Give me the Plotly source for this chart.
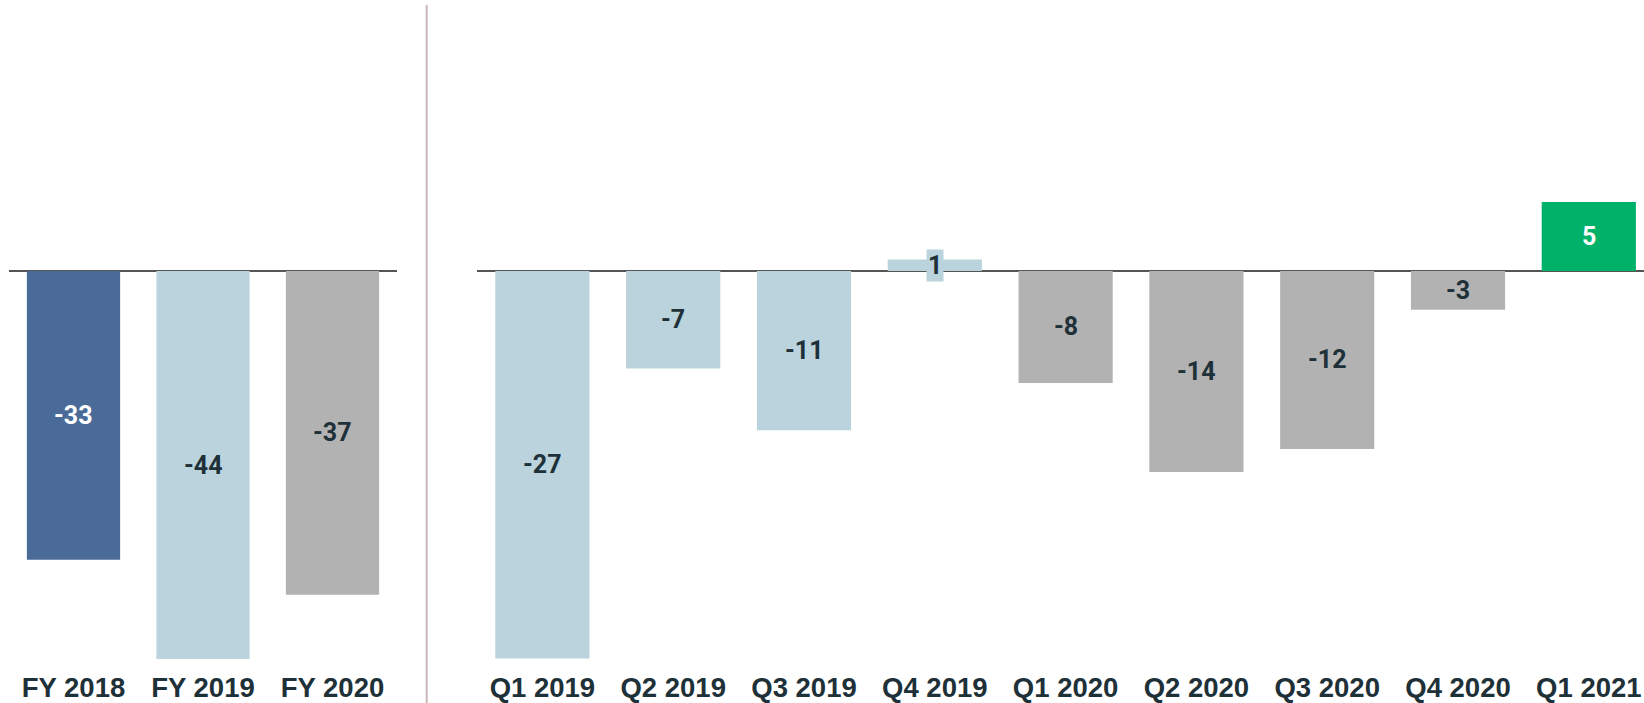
import plotly.graph_objects as go

# ---- data ----
fy_categories = ["FY 2018", "FY 2019", "FY 2020"]
fy_values = [-32.8, -44.1, -36.8]
fy_colors = ["#4a6a98", "#bad3dc", "#b2b2b2"]
fy_label_colors = ["#ffffff", "#1e3038", "#1e3038"]

q_categories = ["Q1 2019", "Q2 2019", "Q3 2019", "Q4 2019", "Q1 2020",
                "Q2 2020", "Q3 2020", "Q4 2020", "Q1 2021"]
q_values = [-27.0, -6.8, -11.1, 0.8, -7.8, -14.0, -12.4, -2.7, 4.8]
q_colors = ["#bad3dc"] * 4 + ["#b2b2b2"] * 4 + ["#00b16a"]
q_label_colors = ["#1e3038"] * 8 + ["#ffffff"]

fy_labels = [f"{round(v):d}" for v in fy_values]
q_labels = [f"{round(v):d}" for v in q_values]

# ---- layout geometry ----
W, H = 1644, 703
MB = 44
PH = H - MB            # plot-area height
ZERO_PX = 271          # zero line position from top
fy_ppu = 8.8
q_ppu = 14.35

fig = go.Figure()
fig.add_trace(go.Bar(x=fy_categories, y=fy_values, marker_color=fy_colors,
                     marker_line_width=0, xaxis="x", yaxis="y",
                     hoverinfo="x+y"))
fig.add_trace(go.Bar(x=q_categories, y=q_values, marker_color=q_colors,
                     marker_line_width=0, xaxis="x2", yaxis="y2",
                     hoverinfo="x+y"))

label_font = "Roboto"
annotations = []
for cat, v, lab, c, bg in zip(fy_categories, fy_values, fy_labels, fy_label_colors, fy_colors):
    annotations.append(dict(x=cat, y=v / 2, xref="x", yref="y", text=f"<b>{lab}</b>",
                            showarrow=False, bgcolor=bg, borderpad=1,
                            font=dict(family=label_font, size=25, color=c)))
for cat, v, lab, c, bg in zip(q_categories, q_values, q_labels, q_label_colors, q_colors):
    annotations.append(dict(x=cat, y=v / 2, xref="x2", yref="y2", text=f"<b>{lab}</b>",
                            showarrow=False, bgcolor=bg, borderpad=1,
                            font=dict(family=label_font, size=25, color=c)))

tick_font = dict(family="Liberation Sans", size=27.5, color="#1e3038", weight="bold")

x1_dom = [8.75 / W, 397.25 / W]
x2_start = 477.0
step2 = 130.8
x2_dom = [x2_start / W, 1.0]
x2_range_end = -0.5 + (W - x2_start) / step2

common_x = dict(showgrid=False, showline=False, ticks="", tickfont=tick_font,
                fixedrange=True)
fig.update_layout(
    width=W, height=H,
    margin=dict(l=0, r=0, t=0, b=MB),
    paper_bgcolor="white", plot_bgcolor="white",
    showlegend=False,
    bargap=0.28,
    xaxis=dict(domain=x1_dom, range=[-0.5, 2.5], anchor="y", **common_x),
    xaxis2=dict(domain=x2_dom, range=[-0.5, x2_range_end], anchor="y2", **common_x),
    yaxis=dict(range=[-(PH - ZERO_PX) / fy_ppu, ZERO_PX / fy_ppu], visible=True,
               showticklabels=False, showgrid=False, zeroline=True,
               zerolinecolor="#555555", zerolinewidth=2, layer="above traces",
               anchor="x"),
    yaxis2=dict(range=[-(PH - ZERO_PX) / q_ppu, ZERO_PX / q_ppu], visible=True,
                showticklabels=False, showgrid=False, zeroline=True,
                zerolinecolor="#555555", zerolinewidth=2, layer="above traces",
                anchor="x2"),
    annotations=annotations,
    shapes=[dict(type="line", xref="paper", yref="paper",
                 x0=426.7 / W, x1=426.7 / W, y0=-MB / PH, y1=(PH - 5) / PH,
                 line=dict(color="#c8b6b8", width=2))],
)
fig.update_xaxes(ticklabelstandoff=9)

fig.write_html("out.html", config={"displayModeBar": False},
               post_script="document.body.style.margin='0px';document.body.style.overflow='hidden';")
